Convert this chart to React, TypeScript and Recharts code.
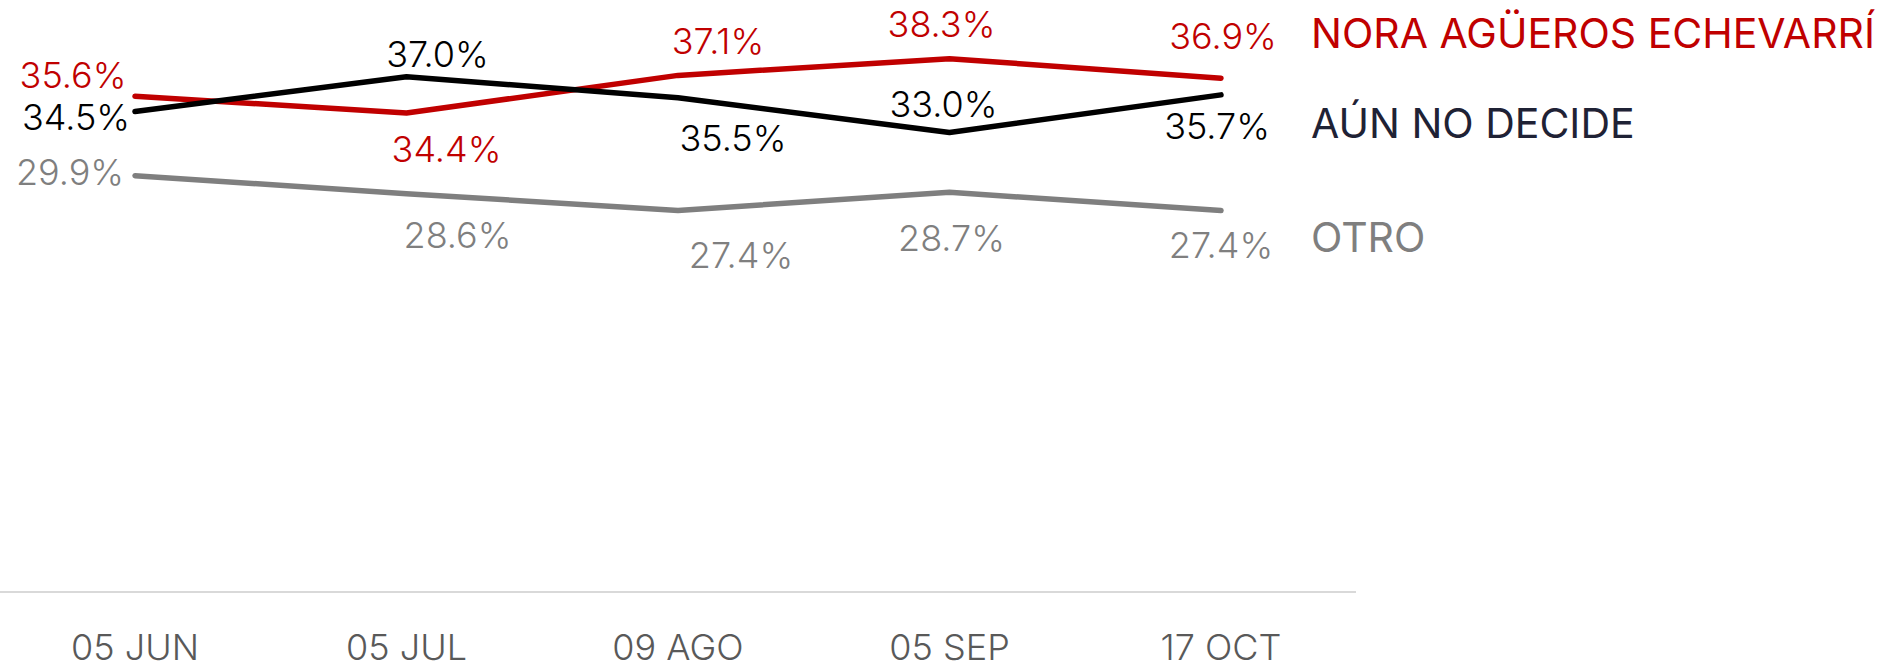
import { LineChart, Line, XAxis, YAxis, LabelList } from "recharts";

const fechas = ["05 JUN", "05 JUL", "09 AGO", "05 SEP", "17 OCT"];
const nora = [35.6, 34.4, 37.1, 38.3, 36.9];
const noDecide = [34.5, 37.0, 35.5, 33.0, 35.7];
const otro = [29.9, 28.6, 27.4, 28.7, 27.4];
const nombres = ["NORA AGÜEROS ECHEVARRÍ", "AÚN NO DECIDE", "OTRO"];

const data = fechas.map((fecha, i) => ({
  fecha,
  nora: nora[i],
  noDecide: noDecide[i],
  otro: otro[i],
}));

const FONT = "Inter, 'Noto Sans', sans-serif";

// label placement per point, [dx, dy] from the point (text centred)
const offsets: Record<string, [number, number][]> = {
  nora: [[-62, -21], [40, 36], [40, -34], [-8, -35], [2, -42]],
  noDecide: [[-59, 5], [31, -23], [55, 40], [-6, -28], [-4, 31]],
  otro: [[-65, -4], [51, 41], [63, 45], [2, 46], [0, 35]],
};

const colors = { nora: "#c00000", noDecide: "#000000", otro: "#7f7f7f" };
const legendColors = ["#c00000", "#1f2235", "#7f7f7f"];

function makeLabel(key: string) {
  return (props: any) => {
    const { x, y, value, index } = props;
    const [dx, dy] = offsets[key][index];
    return (
      <text
        x={x + dx}
        y={y + dy}
        textAnchor="middle"
        dominantBaseline="central"
        fill={colors[key as keyof typeof colors]}
        fontSize={36}
        fontWeight={300}
        fontFamily={FONT}
      >
        {value.toFixed(1)}%
      </text>
    );
  };
}

export default function App() {
  return (
    <div style={{ position: "relative", width: 1895, height: 670, fontFamily: FONT }}>
      <style>{"body{margin:0}"}</style>
      <LineChart
        width={1895}
        height={670}
        data={data}
        margin={{ top: 35, right: 539, bottom: 0, left: 0 }}
      >
        <XAxis
          dataKey="fecha"
          height={78}
          padding={{ left: 135, right: 135 }}
          axisLine={{ stroke: "#d9d9d9", strokeWidth: 2 }}
          tickLine={false}
          tickSize={0}
          tickMargin={42}
          tick={{ fill: "#595959", fontSize: 36, fontWeight: 300, fontFamily: FONT }}
          interval={0}
        />
        <YAxis hide domain={[0, 40]} />
        {(["nora", "noDecide", "otro"] as const).map((key) => (
          <Line
            key={key}
            dataKey={key}
            stroke={colors[key]}
            strokeWidth={5.5}
            strokeLinecap="round"
            strokeLinejoin="round"
            dot={false}
            activeDot={false}
            isAnimationActive={false}
          >
            <LabelList dataKey={key} content={makeLabel(key)} />
          </Line>
        ))}
      </LineChart>
      {nombres.map((n, i) => (
        <div
          key={n}
          style={{
            position: "absolute",
            left: 1311,
            top: [33, 123, 237][i],
            transform: "translateY(-50%)",
            color: legendColors[i],
            fontSize: 41,
            fontWeight: 400,
            whiteSpace: "nowrap",
            lineHeight: 1,
          }}
        >
          {n}
        </div>
      ))}
    </div>
  );
}
